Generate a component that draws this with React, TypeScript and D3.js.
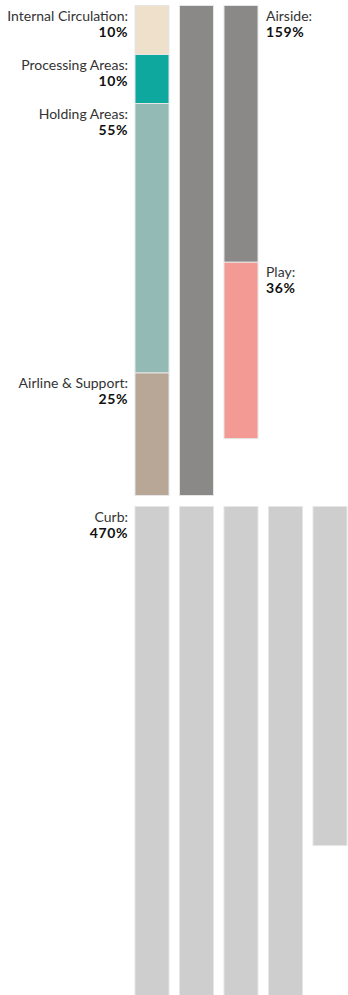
import React from "react";
import * as d3 from "d3";

// ---- data ----
const topCategories = ["Internal Circulation", "Processing Areas", "Holding Areas", "Airline & Support", "Airside", "Play"];
const topValues = [10, 10, 55, 25, 152.4, 36];
const topLabels = ["10%", "10%", "55%", "25%", "159%", "36%"];

const bottomCategories = ["Curb"];
const bottomValues = [469.2];
const bottomLabels = ["470%"];

const categoryColors = ["#efe0cb", "#0fa89e", "#93bab5", "#b8a797", "#8a8987", "#f39a94", "#cecece"];
const allCategories = [...topCategories, ...bottomCategories];

type Piece = { cat: string; col: number; start: number; end: number };

function flow(cats: string[], vals: number[]) {
  const pieces: Piece[] = [];
  let col = 0;
  let used = 0;
  cats.forEach((cat, i) => {
    let remaining = vals[i];
    while (remaining > 1e-6) {
      const take = Math.min(remaining, 100 - used);
      pieces.push({ cat, col, start: used, end: used + take });
      used += take;
      remaining -= take;
      if (used >= 100 - 1e-6) {
        col += 1;
        used = 0;
      }
    }
  });
  return pieces;
}

export default function App() {
  const width = 348;
  const height = 995;
  const color = d3.scaleOrdinal<string, string>().domain(allCategories).range(categoryColors);
  const x = d3.scaleLinear().domain([0, 4]).range([135, 313]);
  const colW = 34;
  const y = d3.scaleLinear().domain([0, 100]).range([0, 490]);

  const groups = [
    { cats: topCategories, vals: topValues, labels: topLabels, y0: 5.5 },
    { cats: bottomCategories, vals: bottomValues, labels: bottomLabels, y0: 506.5 },
  ];

  const font = "Lato, 'Open Sans', sans-serif";

  return (
    <svg width={width} height={height} style={{ position: "absolute", left: 0, top: 0 }} fontFamily={font}>
      {groups.map((g, gi) => {
        const pieces = flow(g.cats, g.vals);
        return (
          <g key={gi}>
            {pieces.map((p, i) => (
              <rect
                key={i}
                x={x(p.col)}
                y={g.y0 + y(p.start)}
                width={colW}
                height={y(p.end) - y(p.start)}
                fill={color(p.cat)}
                stroke="#e6e6e6"
                strokeWidth={1}
              />
            ))}
            {g.cats.map((cat, i) => {
              const own = pieces.filter((p) => p.cat === cat);
              const first = own[0];
              const last = own[own.length - 1];
              const left = first.col === 0;
              const ref = left ? first : last;
              const tx = left ? 128 : x(last.col) + colW + 8;
              const ty = g.y0 + y(ref.start);
              return (
                <text key={cat} x={tx} y={ty} textAnchor={left ? "end" : "start"} fontSize={14}>
                  <tspan x={tx} dy={15} fill="#333">{cat + ":"}</tspan>
                  <tspan x={tx} dy={16} fill="#111" fontWeight={700} letterSpacing={0.6}>{g.labels[i]}</tspan>
                </text>
              );
            })}
          </g>
        );
      })}
    </svg>
  );
}
